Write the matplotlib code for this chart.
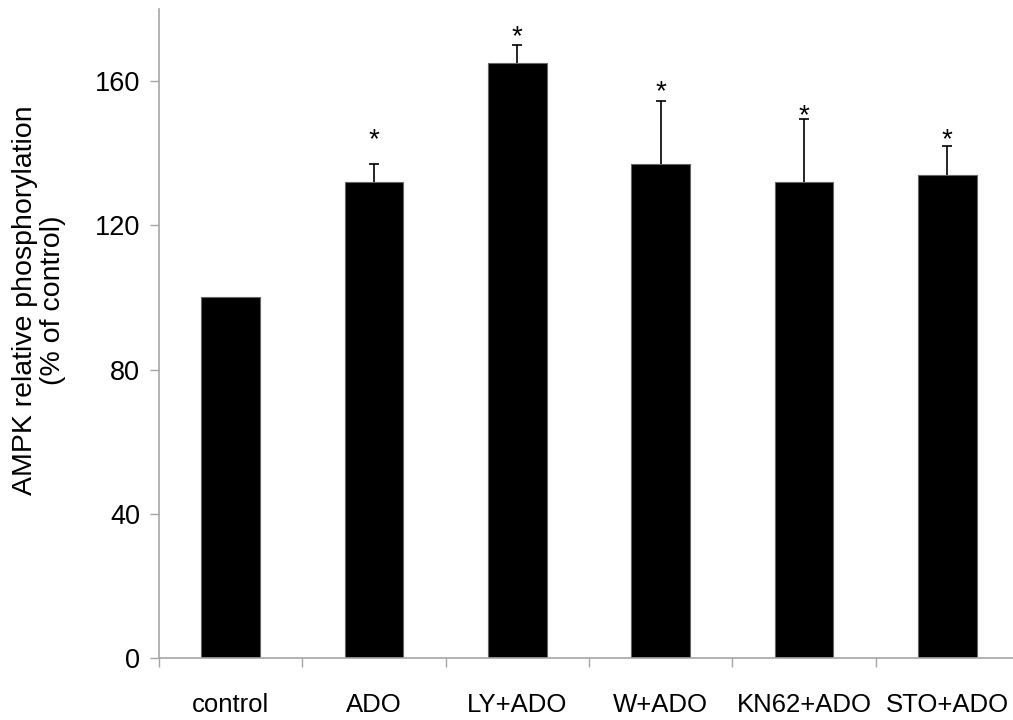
import matplotlib
matplotlib.use("Agg")
import matplotlib.pyplot as plt
import numpy as np

categories = ["control", "ADO", "LY+ADO", "W+ADO", "KN62+ADO", "STO+ADO"]
values = [100, 132, 165, 137, 132, 134]
err_upper = [0, 5, 5, 17.5, 17.5, 8]
star_levels = [None, 146, 174.7, 159.2, 152.8, 146]
yticks = [0, 40, 80, 120, 160]

plt.rcParams['font.family'] = ['Liberation Sans', 'DejaVu Sans']

fig = plt.figure(figsize=(10.13, 7.2), dpi=100)
ax = fig.add_axes([159/1013, 62/720, 860/1013, 649/720])

x = np.arange(len(categories))
ax.bar(x, values, width=0.41, color='black', edgecolor='#666666', linewidth=0.8, zorder=2)
eb = ax.errorbar(x[1:], values[1:], yerr=[np.zeros(len(x)-1), err_upper[1:]], fmt='none',
                 ecolor='black', elinewidth=1.2, capsize=3.6, capthick=1.2, zorder=1)
caplines = eb[1]
if len(caplines) == 2:
    caplines[0].set_visible(False)

for xi, s in zip(x, star_levels):
    if s is not None:
        ax.annotate('*', xy=(xi, s), xytext=(0, -11.3), textcoords='offset points',
                    ha='center', va='baseline', fontsize=20)

ax.set_xlim(-0.5, len(categories) - 0.5)
ax.set_ylim(0, 180)

ax.set_xticks(np.arange(len(categories) + 1) - 0.5)
ax.set_xticklabels([])
ax.set_xticks(x, minor=True)
ax.set_xticklabels(categories, minor=True, fontsize=18.5)
ax.tick_params(axis='x', which='minor', length=0, pad=25)
ax.tick_params(axis='x', which='major', length=6.5, width=1.0, color='#a6a6a6', direction='out')

ax.set_yticks(yticks)
ax.set_yticklabels([str(t) for t in yticks], fontsize=19.5)
ax.tick_params(axis='y', length=6.5, width=1.0, color='#a6a6a6', direction='out', pad=7)

for side in ['top', 'right']:
    ax.spines[side].set_visible(False)
for side in ['left', 'bottom']:
    ax.spines[side].set_color('#a6a6a6')
    ax.spines[side].set_linewidth(1.2)

fig.text(39/1013, 1 - 300/720, "AMPK relative phosphorylation\n(% of control)",
         rotation=90, ha='center', va='center', multialignment='center',
         fontsize=20.5, linespacing=1.1)

fig.savefig("out.png", dpi=100)
